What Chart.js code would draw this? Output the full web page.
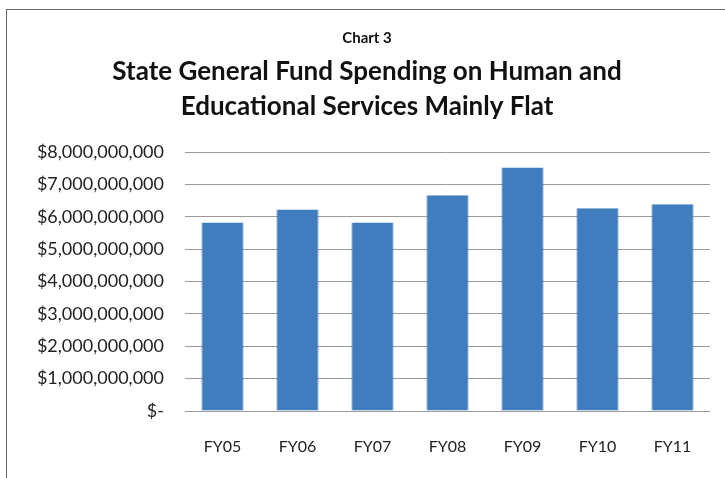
<!DOCTYPE html>
<html>
<head>
<meta charset="utf-8">
<script src="https://cdn.jsdelivr.net/npm/chart.js@4.4.0/dist/chart.umd.min.js"></script>
<style>
  html, body { margin: 0; padding: 0; background: #fff; }
  #wrap { position: relative; width: 725px; height: 478px; }
  #frame { position: absolute; left: 6px; top: 9px; right: 0; bottom: 0;
           border-left: 1px solid #666; border-top: 1px solid #666; }
  canvas { position: absolute; left: 0; top: 0; }
</style>
</head>
<body>
<div id="wrap">
  <div id="frame"></div>
  <canvas id="chart" width="725" height="478"></canvas>
</div>
<script>
var years = ['FY05', 'FY06', 'FY07', 'FY08', 'FY09', 'FY10', 'FY11'];
var spending = [5830000000, 6230000000, 5830000000, 6670000000, 7530000000, 6270000000, 6390000000];
var yMin = 0;
var yMax = 8000000000;
var yStep = 1000000000;

var font = "Lato, 'Open Sans', sans-serif";

function money(v) {
  if (v === 0) return '$-';
  return '$' + v.toLocaleString('en-US');
}

new Chart(document.getElementById('chart'), {
  type: 'bar',
  data: {
    labels: years,
    datasets: [{
      data: spending,
      backgroundColor: '#3f7dbf',
      borderColor: '#336ca8',
      borderWidth: { left: 1, right: 1, top: 0, bottom: 0 },
      categoryPercentage: 1,
      barPercentage: 0.56
    }]
  },
  options: {
    responsive: false,
    animation: false,
    layout: { padding: { left: 24, right: 15, top: 0, bottom: 0 } },
    plugins: {
      legend: { display: false },
      tooltip: { enabled: false },
      title: {
        display: true,
        text: 'Chart 3',
        color: '#111',
        font: { family: font, size: 15, weight: 'bold', lineHeight: 1.2 },
        padding: { top: 29, bottom: 7 }
      },
      subtitle: {
        display: true,
        text: ['State General Fund Spending on Human and', 'Educational Services Mainly Flat'],
        color: '#111',
        font: { family: font, size: 26, weight: 'bold', lineHeight: 1.35 },
        padding: { top: 0, bottom: 28 }
      }
    },
    scales: {
      x: {
        grid: { display: false },
        border: { display: false },
        ticks: { color: '#222', padding: 18, font: { family: font, size: 16 } },
        afterFit: function (s) { s.height = 67; }
      },
      y: {
        min: yMin,
        max: yMax,
        border: { display: false },
        grid: { color: '#9a9a9a', lineWidth: 1, drawTicks: false },
        ticks: {
          stepSize: yStep,
          color: '#222',
          padding: 21,
          font: { family: font, size: 18 },
          callback: function (v) { return money(v); }
        },
        afterFit: function (s) { s.width = 161; }
      }
    }
  }
});
</script>
</body>
</html>
